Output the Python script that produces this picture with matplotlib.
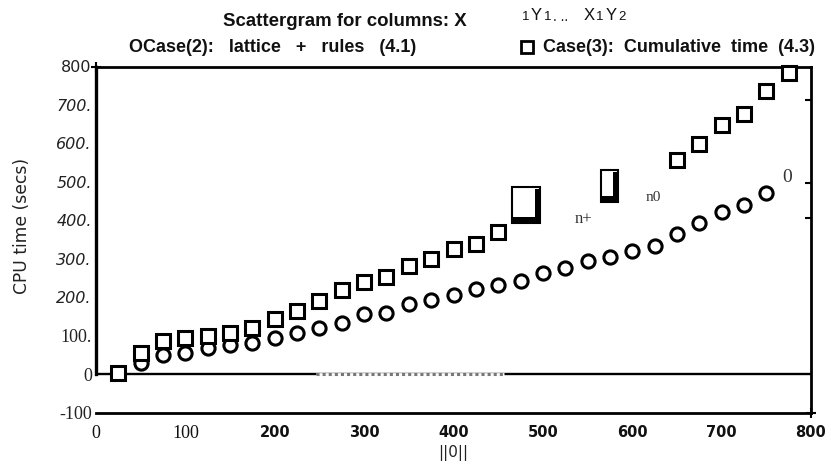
import numpy as np
import matplotlib.pyplot as plt
from matplotlib.lines import Line2D
from matplotlib.patches import Rectangle

# ----------------------------
# data
# ----------------------------
case2_x = [25, 50, 75, 100, 125, 150, 175, 200, 225, 250, 275, 300, 325, 350, 375,
           400, 425, 450, 475, 500, 525, 550, 575, 600, 625, 650, 675, 700, 725, 750]
case2_y = [3, 28, 49, 56, 67, 75, 80, 95, 106, 120, 132, 156, 159, 181, 192,
           205, 220, 231, 242, 262, 275, 294, 305, 319, 333, 364, 393, 422, 439, 471]

case3_x = [25, 50, 75, 100, 125, 150, 175, 200, 225, 250, 275, 300, 325, 350, 375,
           400, 425, 450, 650, 675, 700, 725, 750, 775]
case3_y = [2, 54, 86, 95, 99, 106, 120, 142, 164, 190, 218, 240, 253, 281, 298,
           324, 339, 370, 558, 599, 647, 677, 736, 783]

# scan artefacts (blocky glyphs + stray text) in data units
glyph_left = [466, 565]
glyph_right = [497, 584]
glyph_bottom = [392, 447]
glyph_top = [486, 530]
stray_text = ['n+', 'n0', '0']
stray_x = [545, 623, 773]
stray_y = [403, 460, 512]
stray_size = [12, 11, 14]

right_marks = [714, 496, 405]

yticks = [-100, 0, 100, 200, 300, 400, 500, 600, 700, 800]
ytick_labels = ['-100', '0', '100.', '200.', '300.', '400.', '500.', '600.', '700.', '800']
xticks = [0, 100, 200, 300, 400, 500, 600, 700, 800]
xtick_labels = ['0', '100', '200', '300', '400', '500', '600', '700', '800']

# ----------------------------
# figure
# ----------------------------
W, H = 831, 466
fig = plt.figure(figsize=(W / 100, H / 100), dpi=100)
ax = fig.add_axes([96 / W, 1 - 412.5 / H, 715 / W, 346 / H])
ax.set_xlim(0, 800)
ax.set_ylim(-100, 800)

ax.plot(case2_x, case2_y, 'o', ms=9.5, mfc='white', mec='black', mew=2.2,
        clip_on=False, zorder=5)
ax.plot(case3_x, case3_y, 's', ms=9.5, mfc='white', mec='black', mew=2.2,
        clip_on=False, zorder=5)

# blocky glyphs with a heavy shadow on bottom and right
for l, r, b, t in zip(glyph_left, glyph_right, glyph_bottom, glyph_top):
    ax.add_patch(Rectangle((l, b), r - l, t - b, fc='white', ec='black', lw=1.5, zorder=6))
    ax.add_patch(Rectangle((l, b), r - l, 16, fc='black', ec='none', zorder=7))
    ax.add_patch(Rectangle((r - 5.5, b), 5.5, t - b - 4, fc='black', ec='none', zorder=7))

for s, x, y, fs in zip(stray_text, stray_x, stray_y, stray_size):
    ax.text(x, y, s, fontsize=fs, family='Liberation Serif', ha='center', va='center',
            color='#333333')

# spines / frame
for side in ['top', 'right', 'bottom']:
    ax.spines[side].set_linewidth(2.0)
ax.spines['left'].set_linewidth(2.4)
ax.spines['left'].set_bounds(0, 800)
ax.axhline(0, color='black', lw=1.7, zorder=3)
ax.plot([246, 457], [-1, -1], color='white', lw=2.0, zorder=3.5, solid_capstyle='butt')
ax.plot([246, 457], [-1, -1], color='#777777', lw=2.2, ls=(0, (1, 1)), zorder=3.6)

# odd little tick marks on the scan
ax.plot([0], [800], '+', color='black', ms=7, mew=1.5, clip_on=False)
ax.plot([800], [-100], '+', color='black', ms=7, mew=1.5, clip_on=False)
ax.plot([800] * len(right_marks), right_marks, marker=0, ls='none', color='black',
        ms=4, mew=1.5, clip_on=False)

# ticks
ax.set_yticks(yticks)
ax.set_yticklabels(ytick_labels)
ax.set_xticks(xticks)
ax.set_xticklabels(xtick_labels)
ax.tick_params(axis='y', length=0, pad=3)
ax.tick_params(axis='x', length=0, pad=9)

for lab in ax.get_yticklabels():
    t = lab.get_text()
    lab.set_color('#222222')
    if t in ['-100', '0', '100.']:
        lab.set_fontfamily('Liberation Serif')
        lab.set_fontsize(13)
    elif t == '800':
        lab.set_fontfamily('DejaVu Sans')
        lab.set_fontsize(11.5)
    else:
        lab.set_fontfamily('DejaVu Sans')
        lab.set_fontstyle('italic')
        lab.set_fontsize(11.5)

for lab in ax.get_xticklabels():
    t = lab.get_text()
    lab.set_color('#111111')
    if t in ['0', '100']:
        lab.set_fontfamily('Liberation Serif')
        lab.set_fontsize(13)
    else:
        lab.set_fontfamily('DejaVu Sans')
        lab.set_fontweight('bold')
        lab.set_fontsize(10.5)

ax.set_ylabel('CPU time (secs)', fontsize=12.3, color='#222222')
ax.yaxis.set_label_coords(-65 / 715, 0.54)
fig.text(453 / W, 1 - 453 / H, '||0||', ha='center', va='center', fontsize=11,
         color='#222222')

# ----------------------------
# header
# ----------------------------
fig.text(223 / W, 1 - 21 / H, 'Scattergram for columns: X', ha='left', va='center',
         fontsize=13.4, fontweight='bold', family='Liberation Sans', color='#111111')
pieces = [('1', 522, 17, 9.5), ('Y', 531, 15, 12), ('1', 544, 17, 9.5), ('. ..', 553, 17, 10),
          ('X', 584, 15, 12), ('1', 596, 17, 9.5), ('Y', 606, 15, 12), ('2', 618, 17, 9.5)]
for s, x, y, fs in pieces:
    fig.text(x / W, 1 - y / H, s, ha='left', va='center', fontsize=fs,
             family='Liberation Sans', color='#111111')

fig.text(129 / W, 1 - 48 / H, 'OCase(2):   lattice   +   rules   (4.1)', ha='left',
         va='center', fontsize=13, fontweight='bold', family='Liberation Sans',
         color='#111111')
fig.add_artist(Line2D([527 / W], [1 - 47 / H], marker='s', ms=9, mfc='white',
                      mec='black', mew=2, transform=fig.transFigure))
fig.text(543 / W, 1 - 48 / H, 'Case(3):  Cumulative  time  (4.3)', ha='left',
         va='center', fontsize=13, fontweight='bold', family='Liberation Sans',
         color='#111111')

plt.savefig('out.png', dpi=100)
